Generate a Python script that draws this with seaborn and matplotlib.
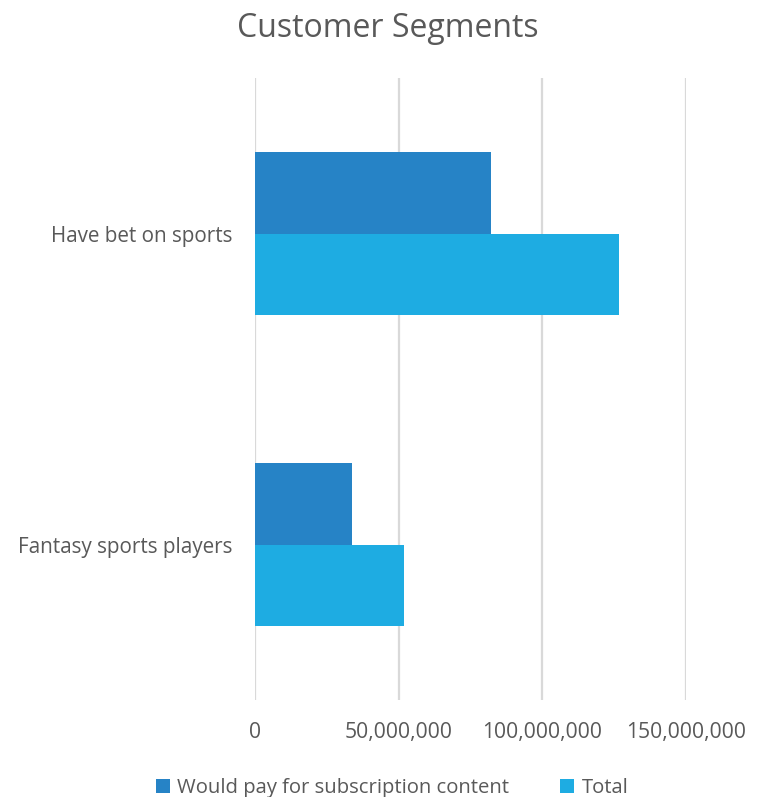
import matplotlib
matplotlib.use("Agg")
import matplotlib.pyplot as plt
import matplotlib.ticker as mticker
import seaborn as sns
import pandas as pd

categories = ["Have bet on sports", "Fantasy sports players"]
series_names = ["Would pay for subscription content", "Total"]
would_pay = [82_200_000, 33_700_000]
total = [126_500_000, 51_900_000]
x_ticks = [0, 50_000_000, 100_000_000, 150_000_000]

colors = ["#2683C6", "#1EACE2"]

rows = []
for c, w, t in zip(categories, would_pay, total):
    rows.append({"Category": c, "Series": series_names[0], "Value": w})
    rows.append({"Category": c, "Series": series_names[1], "Value": t})
df = pd.DataFrame(rows)

sns.set_theme(style="white")
plt.rcParams['font.family'] = ['Open Sans', 'DejaVu Sans']

fig = plt.figure(figsize=(7.6, 7.97), dpi=100)
ax = fig.add_axes([0.336, 0.1217, 0.5666, 0.7803])

sns.barplot(data=df, y="Category", x="Value", hue="Series", order=categories,
            hue_order=series_names, palette=colors, orient="h", width=0.524,
            ax=ax, saturation=1, errorbar=None, linewidth=0)

ax.set_xlim(0, 150_000_000)
ax.set_ylim(1.5, -0.5)
ax.set_xticks(x_ticks)
ax.xaxis.set_major_formatter(mticker.FuncFormatter(lambda v, p: f"{int(v):,}"))
ax.grid(axis="x", color="#D9D9D9", linewidth=1.6)
ax.set_axisbelow(True)
for s in ax.spines.values():
    s.set_visible(False)
ax.tick_params(axis="x", length=0, labelsize=15.2, labelcolor="#595959", pad=16)
ax.tick_params(axis="y", length=0, labelsize=14.9, labelcolor="#595959", pad=16.5)
ax.set_xlabel("")
ax.set_ylabel("")

fig.suptitle("Customer Segments", x=0.51, y=0.985, fontsize=23, color="#595959")

leg = ax.legend(loc="center", ncol=2, frameon=False, fontsize=14.6,
                handlelength=0.7, handleheight=0.7,
                handletextpad=0.35, columnspacing=2.5)
leg.set_bbox_to_anchor((0.516, 0.011), transform=fig.transFigure)
for t in leg.get_texts():
    t.set_color("#595959")

fig.savefig("out.png", dpi=100)
